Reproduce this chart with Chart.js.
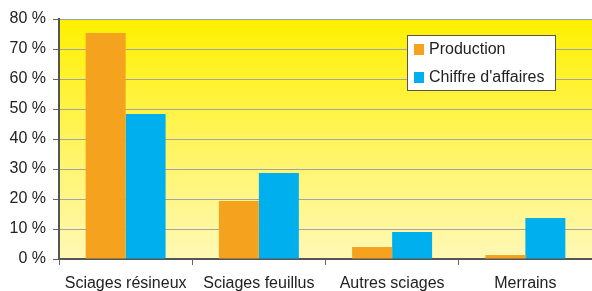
<!DOCTYPE html>
<html><head><meta charset="utf-8">
<script src="https://cdn.jsdelivr.net/npm/chart.js@4/dist/chart.umd.min.js"></script>
<style>html,body{margin:0;padding:0;background:#fff;}#wrap{width:592px;height:291px;}</style>
</head><body><div id="wrap"><canvas id="c" width="592" height="291"></canvas></div>
<script>
const categories = ["Sciages résineux", "Sciages feuillus", "Autres sciages", "Merrains"];
const production = [75.3, 19.3, 4.0, 1.3];
const chiffreAffaires = [48.3, 28.7, 9.0, 13.7];
const seriesNames = ["Production", "Chiffre d'affaires"];
const yTicks = [0, 10, 20, 30, 40, 50, 60, 70, 80];

const FONT = "'Liberation Sans', Arial, sans-serif";

const bgPlugin = {
  id: 'bg',
  beforeDraw(chart) {
    const {ctx, chartArea: a} = chart;
    const g = ctx.createLinearGradient(0, a.top, 0, a.bottom);
    g.addColorStop(0, '#FFF000');
    g.addColorStop(1, '#FFF8B6');
    ctx.save(); ctx.fillStyle = g;
    ctx.fillRect(a.left, a.top, a.right - a.left, a.bottom - a.top);
    ctx.restore();
  }
};

const legendPlugin = {
  id: 'boxLegend',
  afterDraw(chart) {
    const ctx = chart.ctx;
    const x = 407.5, y = 35.5, w = 148, h = 55;
    ctx.save();
    ctx.fillStyle = '#fff'; ctx.fillRect(x, y, w, h);
    ctx.strokeStyle = '#555'; ctx.lineWidth = 1; ctx.strokeRect(x, y, w, h);
    ctx.font = '16px ' + FONT; ctx.textBaseline = 'middle'; ctx.fillStyle = '#222';
    chart.data.datasets.forEach((ds, i) => {
      const cy = 49 + i * 28;
      ctx.fillStyle = ds.backgroundColor;
      ctx.fillRect(414, cy - 5, 10, 11);
      ctx.fillStyle = '#222';
      ctx.fillText(ds.label, 429, cy + 1);
    });
    ctx.restore();
  }
};

new Chart(document.getElementById('c'), {
  type: 'bar',
  data: {
    labels: categories,
    datasets: [
      {label: seriesNames[0], data: production, backgroundColor: '#F5A31F'},
      {label: seriesNames[1], data: chiffreAffaires, backgroundColor: '#00B0EE'}
    ]
  },
  options: {
    responsive: false, animation: false,
    layout: {padding: {top: 19, right: 0, left: 0, bottom: 0}},
    categoryPercentage: 0.6, barPercentage: 1.0,
    plugins: {legend: {display: false}, tooltip: {enabled: false}},
    scales: {
      x: {
        grid: {offset: true, drawOnChartArea: false, drawTicks: true, tickLength: 6, color: '#666', tickColor: '#666'},
        border: {color: '#555', width: 2},
        ticks: {color: '#222', font: {family: FONT, size: 16}, padding: 9, maxRotation: 0},
        afterFit(s) { s.height = 32; }
      },
      y: {
        min: 0, max: 80,
        afterBuildTicks(s) { s.ticks = yTicks.map(v => ({value: v})); },
        grid: {color: '#a4a4a4', lineWidth: 1, tickLength: 6, tickColor: '#666'},
        border: {color: '#555', width: 2},
        ticks: {color: '#222', font: {family: FONT, size: 16}, padding: 7, callback: v => v + ' %'},
        afterFit(s) { s.width = 59; }
      }
    }
  },
  plugins: [bgPlugin, legendPlugin]
});
</script></body></html>
